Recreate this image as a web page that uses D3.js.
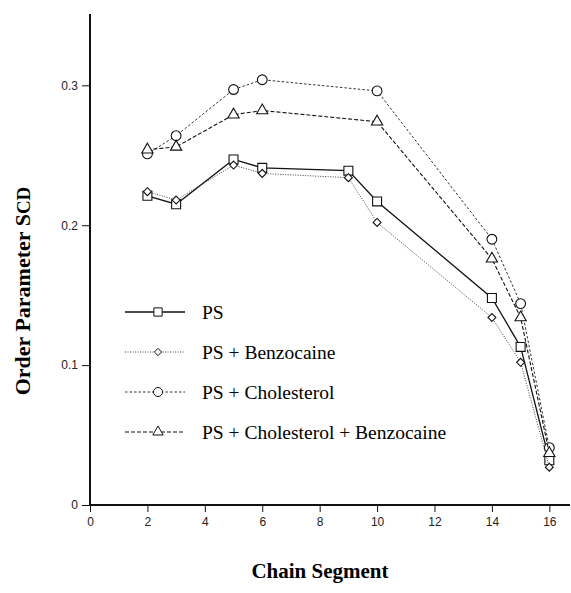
<!DOCTYPE html>
<html>
<head>
    <meta charset="utf-8">
    <title>order-parameter</title>
    <style type="text/css">
        body { margin: 0; background: #fff; }
        .axis path, .axis line {
            fill: none;
            stroke: #111;
        }
        .axis text {
            font-family: "Liberation Sans", Arial, sans-serif;
            font-size: 12px;
            fill: #222;
        }
        .title {
            font-family: "Liberation Serif", "Times New Roman", serif;
            font-weight: bold;
            font-size: 21px;
            fill: #000;
        }
        .legend text {
            font-family: "Liberation Serif", "Times New Roman", serif;
            font-size: 19.5px;
            fill: #000;
        }
    </style>
</head>
<body>
<script src="https://cdn.jsdelivr.net/npm/d3@7"></script>
<script>
    // data
    var segments = [2, 3, 5, 6, 9, 10, 14, 15, 16];
    var ps = [0.221, 0.215, 0.247, 0.241, 0.239, 0.217, 0.148, 0.113, 0.032];
    var psBenzo = [0.224, 0.218, 0.243, 0.237, 0.234, 0.202, 0.134, 0.102, 0.027];
    var psChol = [0.251, 0.264, 0.297, 0.304, null, 0.296, 0.190, 0.144, 0.041];
    var psCholBenzo = [0.254, 0.256, 0.279, 0.282, null, 0.274, 0.176, 0.134, 0.037];
    var seriesNames = ['PS', 'PS + Benzocaine', 'PS + Cholesterol', 'PS + Cholesterol + Benzocaine'];
    var xTicks = [0, 2, 4, 6, 8, 10, 12, 14, 16];
    var yTicks = [0, 0.1, 0.2, 0.3];

    var styles = [
        { values: ps, symbol: d3.symbolSquare, size: 80, dash: null, width: 1.3, color: '#111' },
        { values: psBenzo, symbol: d3.symbolDiamond2 || d3.symbolDiamond, size: 40, dash: '1,1.5', width: 1, color: '#444' },
        { values: psChol, symbol: d3.symbolCircle, size: 75, dash: '2.5,2', width: 1, color: '#333' },
        { values: psCholBenzo, symbol: d3.symbolTriangle, size: 55, dash: '4,2', width: 1.1, color: '#111' }
    ];

    var svgWidth = 571, svgHeight = 593;
    var svg = d3.select('body').append('svg')
        .attr('width', svgWidth).attr('height', svgHeight);

    var x = d3.scaleLinear().domain([0, 16.72]).range([90, 570]);
    var y = d3.scaleLinear().domain([0, 0.351]).range([505, 14]);

    var xAxis = d3.axisBottom(x).tickValues(xTicks).tickSize(7).tickPadding(5)
        .tickFormat(d3.format('d'));
    var yAxis = d3.axisLeft(y).tickValues(yTicks).tickSize(8).tickPadding(4)
        .tickFormat(function (d) { return d === 0 ? '0' : d3.format('.1f')(d); });

    svg.append('g').attr('class', 'axis')
        .attr('transform', 'translate(0,' + y(0) + ')')
        .call(xAxis)
        .call(function (g) { g.select('.domain').attr('stroke-width', 2).attr('d', 'M' + (x(0) - 1) + ',0H570'); });

    svg.append('g').attr('class', 'axis')
        .attr('transform', 'translate(' + x(0) + ',0)')
        .call(yAxis)
        .call(function (g) { g.select('.domain').attr('stroke-width', 2).attr('d', 'M0,' + y(0.351) + 'V' + (y(0) + 1)); });

    // lines
    var line = d3.line()
        .x(function (d) { return x(d[0]); })
        .y(function (d) { return y(d[1]); });

    styles.forEach(function (s) {
        var pts = segments.map(function (seg, i) { return [seg, s.values[i]]; })
            .filter(function (d) { return d[1] != null; });
        svg.append('path')
            .datum(pts)
            .attr('d', line)
            .attr('fill', 'none')
            .attr('stroke', s.color)
            .attr('stroke-width', s.width)
            .attr('stroke-dasharray', s.dash);
        svg.append('g').selectAll('path')
            .data(pts)
            .enter()
            .append('path')
            .attr('transform', function (d) { return 'translate(' + x(d[0]) + ',' + y(d[1]) + ')'; })
            .attr('d', d3.symbol().type(s.symbol).size(s.size))
            .attr('fill', '#fff')
            .attr('stroke', '#111')
            .attr('stroke-width', 1.1);
    });

    // legend
    var legend = svg.append('g').attr('class', 'legend');
    seriesNames.forEach(function (name, i) {
        var s = styles[i];
        var ly = 312 + i * 40;
        legend.append('line')
            .attr('x1', 125).attr('x2', 185).attr('y1', ly).attr('y2', ly)
            .attr('stroke', s.color).attr('stroke-width', s.width)
            .attr('stroke-dasharray', s.dash);
        legend.append('path')
            .attr('transform', 'translate(158,' + ly + ')')
            .attr('d', d3.symbol().type(s.symbol).size(s.size * 0.85))
            .attr('fill', '#fff').attr('stroke', '#111').attr('stroke-width', 1);
        legend.append('text')
            .attr('x', 202).attr('y', ly + 7)
            .text(name);
    });

    // axis titles
    svg.append('text').attr('class', 'title')
        .attr('x', 320).attr('y', 578)
        .attr('text-anchor', 'middle')
        .text('Chain Segment');

    var yt = svg.append('text').attr('class', 'title')
        .attr('transform', 'translate(30,291) rotate(-90)')
        .attr('text-anchor', 'middle')
        .style('font-size', '22px');
    yt.append('tspan').text('Order Parameter S');
    yt.append('tspan').attr('font-size', '19px').text('CD');
</script>
</body>
</html>
